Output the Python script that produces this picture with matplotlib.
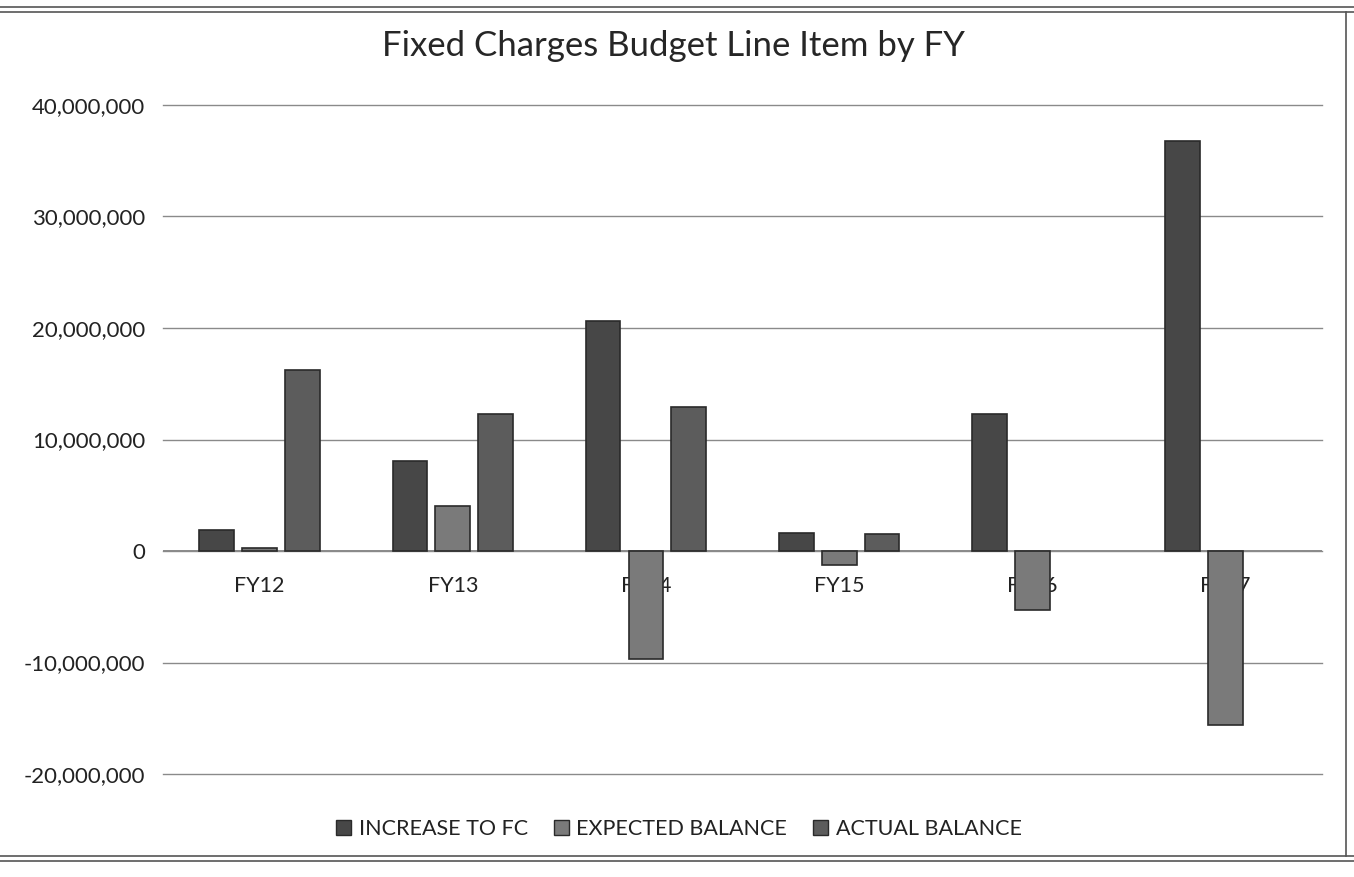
import matplotlib.pyplot as plt
import numpy as np
from matplotlib.lines import Line2D
from matplotlib.ticker import FuncFormatter

plt.rcParams['font.family'] = ['Lato', 'DejaVu Sans']

years = ['FY12', 'FY13', 'FY14', 'FY15', 'FY16', 'FY17']
increase_to_fc = [1_900_000, 8_100_000, 20_600_000, 1_600_000, 12_300_000, 36_800_000]
expected_balance = [300_000, 4_000_000, -9_700_000, -1_250_000, -5_300_000, -15_600_000]
# no actual balance reported yet for the last two years
actual_balance = [16_200_000, 12_300_000, 12_900_000, 1_500_000, np.nan, np.nan]

series = [
    ('INCREASE TO FC', increase_to_fc, '#474747'),
    ('EXPECTED BALANCE', expected_balance, '#7a7a7a'),
    ('ACTUAL BALANCE', actual_balance, '#5c5c5c'),
]

fig = plt.figure(figsize=(13.54, 8.77), dpi=100)
ax = fig.add_axes([0.1204, 0.1174, 0.8560, 0.7629])

x = np.arange(len(years)) + 0.5
width = 0.18
offsets = [-0.222, 0.0, 0.222]
for (name, vals, color), off in zip(series, offsets):
    ax.bar(x + off, vals, width, color=color, edgecolor='#2a2a2a',
           linewidth=1.2, zorder=3, label=name)

ax.set_xlim(0, len(years))
ax.set_ylim(-20_000_000, 40_000_000)
ax.set_yticks(np.arange(-20_000_000, 40_000_001, 10_000_000))
ax.yaxis.set_major_formatter(FuncFormatter(lambda v, _: f'{v:,.0f}'))
ax.tick_params(axis='y', length=0, pad=13, labelsize=16, labelcolor='#222222')
ax.set_xticks([])
ax.grid(axis='y', color='#8a8a8a', linewidth=1.0, zorder=0)
for gl in ax.get_ygridlines():
    gl.set_clip_on(False)
ax.axhline(0, color='#777777', linewidth=1.2, zorder=1)
for s in ax.spines.values():
    s.set_visible(False)

# category labels sit just under the zero line, behind the bars
for xi, label in zip(x, years):
    ax.annotate(label, (xi, 0), xytext=(0, -25), textcoords='offset points',
                ha='center', va='center', fontsize=15.5, color='#222222', zorder=2)

fig.text(0.497, 0.948, 'Fixed Charges Budget Line Item by FY', ha='center',
         va='center', fontsize=25, color='#262626')

handles = [plt.Rectangle((0, 0), 1, 1, facecolor=c, edgecolor='#2a2a2a')
           for _, _, c in series]
fig.legend(handles, [s[0] for s in series], loc='center',
           bbox_to_anchor=(0.5015, 0.055), ncol=3, frameon=False,
           fontsize=15.5, handlelength=0.7, handleheight=0.7,
           handletextpad=0.35, columnspacing=1.2,
           labelcolor='#222222')

# chart frame: double rule top and bottom, single rule on the right
for yy in (0.992, 0.986, 0.024, 0.018):
    fig.add_artist(Line2D([0, 1], [yy, yy], color='#555555', linewidth=1.2,
                          transform=fig.transFigure))
fig.add_artist(Line2D([0.994, 0.994], [0.024, 0.986], color='#555555',
                      linewidth=1.2, transform=fig.transFigure))

fig.savefig('out.png', dpi=100, facecolor='white')
